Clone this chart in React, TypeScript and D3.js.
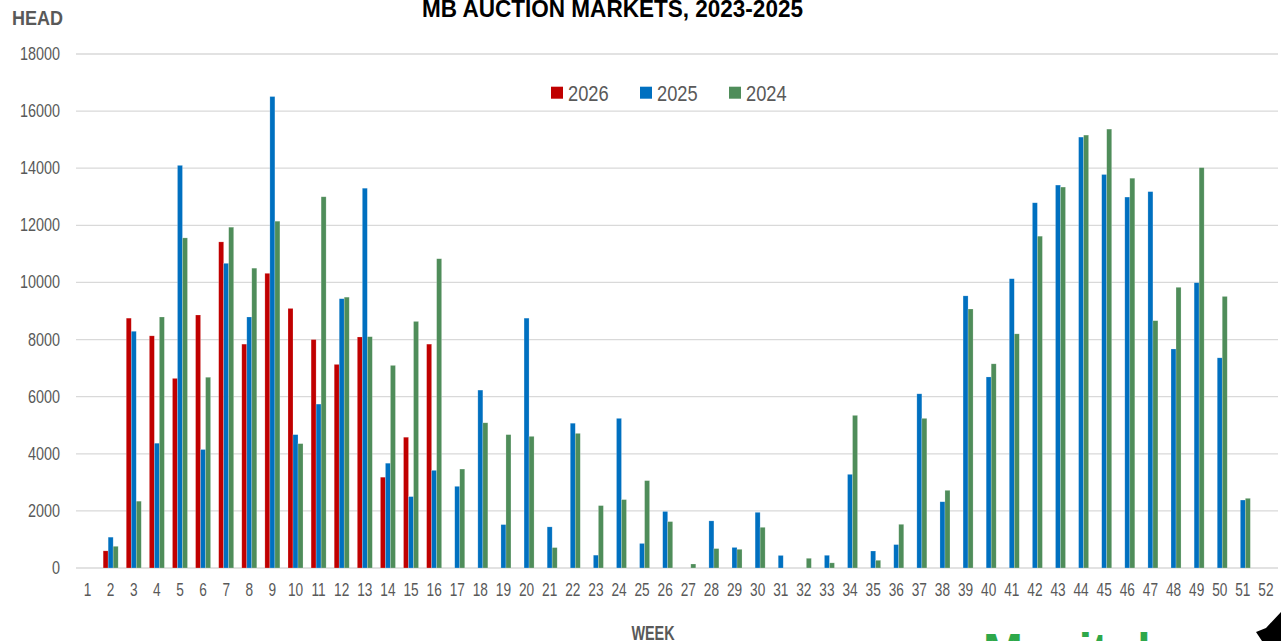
import React, { useEffect, useRef } from 'react';
import * as d3 from 'd3';

// weeks 1..52, null = no bar that week
const weeks = d3.range(1, 53).map(String);

const series = ['2026', '2025', '2024'];

const head2026 = [
  null, 600, 8750, 8130, 6640, 8860, 11420, 7840, 10320, 9090, 8000, 7130, 8090, 3180, 4580, 7840,
  null, null, null, null, null, null, null, null, null, null, null, null, null, null, null, null,
  null, null, null, null, null, null, null, null, null, null, null, null, null, null, null, null,
  null, null, null, null,
];

const head2025 = [
  null, 1080, 8290, 4370, 14100, 4150, 10670, 8790, 16510, 4670, 5740, 9430, 13300, 3670, 2500, 3420,
  2860, 6230, 1520, 8750, 1440, 5070, 450, 5240, 860, 1980, null, 1650, 720, 1950, 440, null,
  445, 3280, 595, 820, 6100, 2320, 9530, 6690, 10130, 12790, 13410, 15090, 13780, 12990, 13180, 7670,
  9990, 7360, 2380, null,
];

const head2024 = [
  null, 760, 2340, 8790, 11560, 6680, 11935, 10500, 12145, 4355, 13000, 9485, 8100, 7095, 8635, 10830,
  3465, 5085, 4670, 4610, 715, 4715, 2185, 2395, 3060, 1625, 140, 680, 655, 1425, null, 340,
  180, 5345, 270, 1530, 5240, 2720, 9070, 7150, 8200, 11620, 13340, 15160, 15370, 13650, 8660, 9830,
  14020, 9510, 2440, null,
];

const yTicks = [0, 2000, 4000, 6000, 8000, 10000, 12000, 14000, 16000, 18000];

const colors: Record<string, string> = { '2026': '#C00000', '2025': '#0070C0', '2024': '#4F8D5A' };

const App = () => {
  const svgRef = useRef<SVGSVGElement>(null);

  useEffect(() => {
    const svg = d3.select(svgRef.current);
    const width = 1281;
    const height = 641;
    svg.selectAll('*').remove();

    const labelGray = '#595959';
    const font = '"Liberation Sans", Arial, sans-serif';

    const x0 = d3.scaleBand<string>()
      .domain(weeks)
      .range([76, 1277.5])
      .paddingInner(0.35)
      .paddingOuter(0.175);

    const x1 = d3.scaleBand<string>()
      .domain(series)
      .range([0, x0.bandwidth()]);

    const y = d3.scaleLinear()
      .domain([0, 18000])
      .range([568, 54]);

    const valuesBySeries: Record<string, (number | null)[]> = {
      '2026': head2026,
      '2025': head2025,
      '2024': head2024,
    };

    // 网格线
    svg.append('g')
      .selectAll('line')
      .data(yTicks)
      .join('line')
      .attr('x1', 76)
      .attr('x2', 1278)
      .attr('y1', d => y(d))
      .attr('y2', d => y(d))
      .attr('stroke', '#D9D9D9')
      .attr('stroke-width', 1.3);

    // y轴标签
    svg.append('g')
      .selectAll('text')
      .data(yTicks)
      .join('text')
      .attr('transform', d => `translate(60, ${y(d) + 6}) scale(0.8, 1)`)
      .attr('text-anchor', 'end')
      .attr('font-family', font)
      .attr('font-size', 18)
      .attr('fill', labelGray)
      .text(d => d);

    // 柱子
    series.forEach(s => {
      const rows = weeks
        .map((w, i) => ({ week: w, value: valuesBySeries[s][i] }))
        .filter(d => d.value !== null) as { week: string; value: number }[];

      svg.append('g')
        .selectAll('rect')
        .data(rows)
        .join('rect')
        .attr('x', d => (x0(d.week) as number) + (x1(s) as number))
        .attr('width', x1.bandwidth())
        .attr('y', d => y(d.value))
        .attr('height', d => y(0) - y(d.value))
        .attr('fill', colors[s])
        .attr('stroke', 'rgba(255,255,255,0.35)')
        .attr('stroke-width', 0.6);
    });

    // x轴标签
    svg.append('g')
      .selectAll('text')
      .data(weeks)
      .join('text')
      .attr('transform', d => `translate(${(x0(d) as number) + x0.bandwidth() / 2}, 596) scale(0.76, 1)`)
      .attr('text-anchor', 'middle')
      .attr('font-family', font)
      .attr('font-size', 18)
      .attr('fill', labelGray)
      .text(d => d);

    // 标题
    svg.append('text')
      .attr('x', 612.5)
      .attr('y', 16.5)
      .attr('text-anchor', 'middle')
      .attr('font-family', font)
      .attr('font-weight', 'bold')
      .attr('font-size', 24)
      .attr('fill', '#000')
      .attr('textLength', 381)
      .attr('lengthAdjust', 'spacingAndGlyphs')
      .text('MB AUCTION MARKETS, 2023-2025');

    svg.append('text')
      .attr('transform', 'translate(37.5, 25) scale(0.9, 1)')
      .attr('text-anchor', 'middle')
      .attr('font-family', font)
      .attr('font-weight', 'bold')
      .attr('font-size', 20)
      .attr('fill', labelGray)
      .text('HEAD');

    svg.append('text')
      .attr('transform', 'translate(653, 639.5) scale(0.72, 1)')
      .attr('text-anchor', 'middle')
      .attr('font-family', font)
      .attr('font-weight', 'bold')
      .attr('font-size', 20)
      .attr('fill', labelGray)
      .text('WEEK');

    // 图例
    const legendX = [551, 640, 729];
    series.forEach((s, i) => {
      const g = svg.append('g').attr('transform', `translate(${legendX[i]}, 86.7)`);
      g.append('rect')
        .attr('width', 12)
        .attr('height', 12)
        .attr('fill', colors[s]);
      g.append('text')
        .attr('transform', 'translate(17, 14.3) scale(0.83, 1)')
        .attr('font-family', font)
        .attr('font-size', 22)
        .attr('fill', labelGray)
        .text(s);
    });

    // 底部logo（被裁切）
    svg.append('text')
      .attr('x', 983)
      .attr('y', 667)
      .attr('font-family', font)
      .attr('font-weight', 'bold')
      .attr('font-size', 48)
      .attr('fill', '#2EA84A')
      .attr('textLength', 210)
      .attr('lengthAdjust', 'spacingAndGlyphs')
      .text('Manitoba');

    svg.append('path')
      .attr('d', 'M1256,632 L1266,628 L1281,612 L1281,641 L1262,641 Z')
      .attr('fill', '#000');
  }, []);

  return (
    <svg
      ref={svgRef}
      width={1281}
      height={641}
      style={{ position: 'absolute', left: 0, top: 0, background: '#fff' }}
    />
  );
};

export default App;
